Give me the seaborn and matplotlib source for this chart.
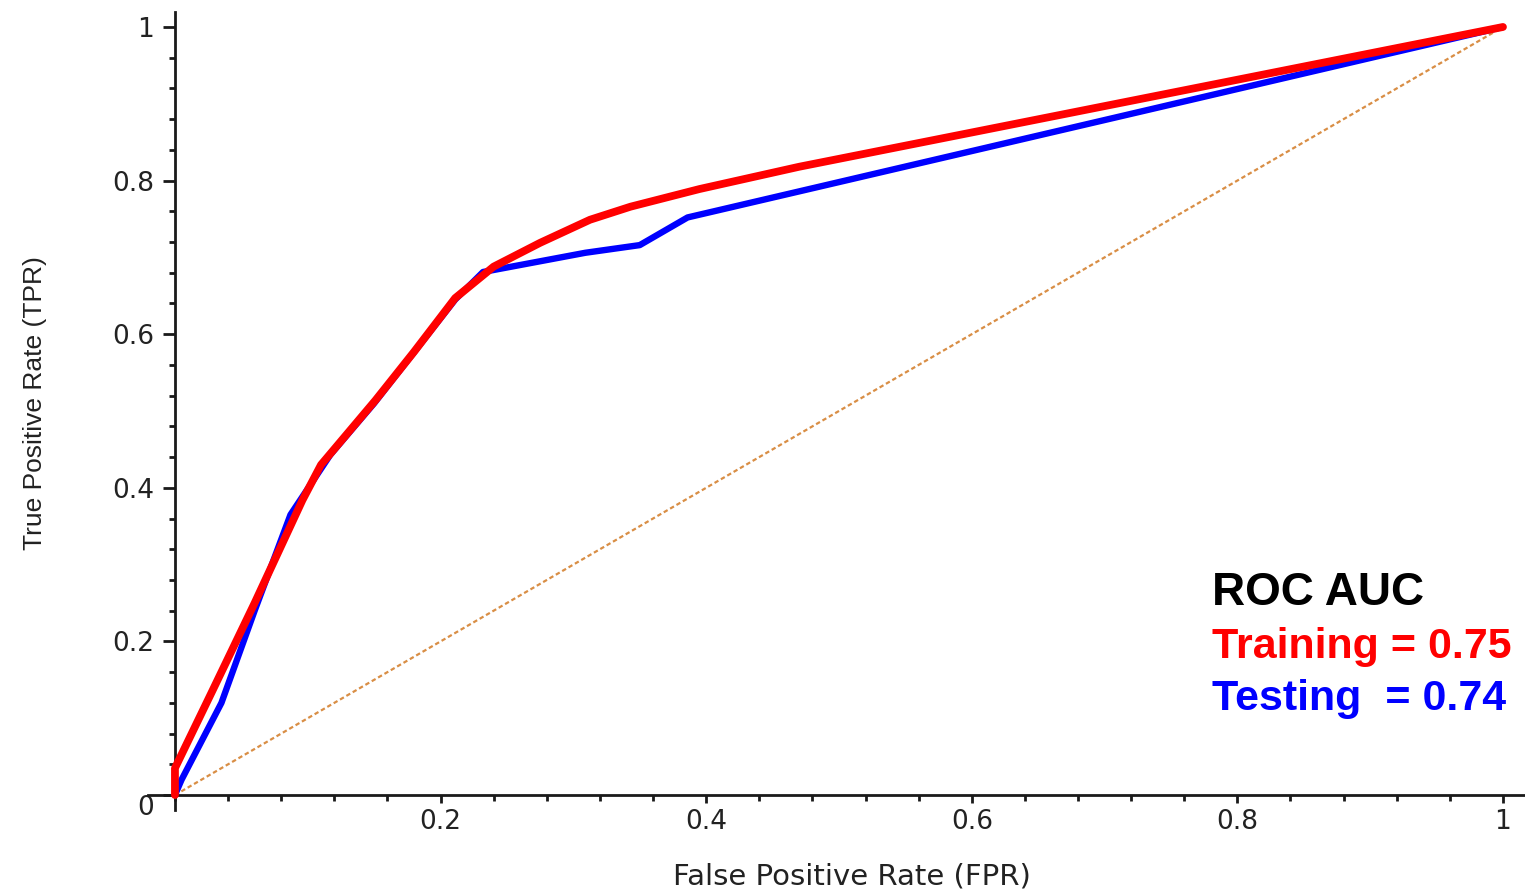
import matplotlib
matplotlib.use("Agg")
import matplotlib.pyplot as plt
import seaborn as sns
import pandas as pd
import numpy as np
from matplotlib.ticker import MultipleLocator, FixedLocator, FixedFormatter

# ---- data ----
train_fpr = [0.0, 0.0, 0.028, 0.06, 0.096, 0.11, 0.151, 0.18, 0.211, 0.24, 0.275, 0.3125, 0.343, 0.395, 0.47, 1.0]
train_tpr = [0.0, 0.035, 0.135, 0.25, 0.384, 0.43, 0.514, 0.577, 0.647, 0.688, 0.719, 0.749, 0.766, 0.789, 0.818, 1.0]
test_fpr = [0.0, 0.005, 0.035, 0.06, 0.087, 0.117, 0.15, 0.211, 0.232, 0.309, 0.350, 0.386, 1.0]
test_tpr = [0.0, 0.02, 0.12, 0.24, 0.365, 0.443, 0.51, 0.645, 0.681, 0.706, 0.716, 0.752, 1.0]
chance_x = [0.0, 1.0]
chance_y = [0.0, 1.0]
major_ticks = [0.2, 0.4, 0.6, 0.8, 1.0]
major_labels = ["0.2", "0.4", "0.6", "0.8", "1"]

sns.set_style("white")
plt.rcParams['font.family'] = ['DejaVu Sans']

fig = plt.figure(figsize=(15.25, 8.93), dpi=100)
ax = fig.add_axes([148/1525, 1 - 810/893, 1377/1525, 798/893])

df_train = pd.DataFrame({"FPR": train_fpr, "TPR": train_tpr})
df_test = pd.DataFrame({"FPR": test_fpr, "TPR": test_tpr})
df_chance = pd.DataFrame({"FPR": chance_x, "TPR": chance_y})

sns.lineplot(data=df_chance, x="FPR", y="TPR", ax=ax, sort=False, color="#D98E45",
             linewidth=1.6, linestyle=(0, (2.0, 1.3)), zorder=2)
sns.lineplot(data=df_test, x="FPR", y="TPR", ax=ax, sort=False, color="#0000FF",
             linewidth=4.6, zorder=3, estimator=None)
sns.lineplot(data=df_train, x="FPR", y="TPR", ax=ax, sort=False, color="#FF0000",
             linewidth=5.6, zorder=4, estimator=None)

ax.set_xlim(-0.0203, 1.0166)
ax.set_ylim(-0.0195, 1.0195)

for s in ["top", "right"]:
    ax.spines[s].set_visible(False)
ax.spines["left"].set_position(("data", 0))
ax.spines["bottom"].set_position(("data", 0))
for s in ["left", "bottom"]:
    ax.spines[s].set_linewidth(2.0)
    ax.spines[s].set_color("#1a1a1a")

ax.xaxis.set_major_locator(FixedLocator(major_ticks))
ax.xaxis.set_major_formatter(FixedFormatter(major_labels))
ax.yaxis.set_major_locator(FixedLocator([0.0] + major_ticks))
ax.yaxis.set_major_formatter(FixedFormatter(["0"] + major_labels))
ax.xaxis.set_minor_locator(MultipleLocator(0.04))
ax.yaxis.set_minor_locator(MultipleLocator(0.04))

ax.tick_params(axis="x", which="major", direction="out", length=6, width=2,
               color="#1a1a1a", labelsize=19, labelcolor="#222222", pad=4)
ax.tick_params(axis="y", which="major", direction="out", length=9, width=2,
               color="#1a1a1a", labelsize=19, labelcolor="#222222", pad=6)
ax.tick_params(axis="both", which="minor", direction="out", length=4, width=2,
               color="#1a1a1a")
ax.tick_params(axis="both", which="both", bottom=True, left=True)
for lab in ax.get_yticklabels():
    if lab.get_text() == "0":
        lab.set_va("top")

ax.set_xlabel("False Positive Rate (FPR)", fontsize=21, color="#222222")
ax.set_ylabel("True Positive Rate (TPR)", fontsize=19, color="#222222",
              family=["Liberation Sans Narrow", "Liberation Sans", "DejaVu Sans"])
ax.xaxis.set_label_coords((852 - 148) / 1377, (810 - 876) / 798)
ax.xaxis.label.set_va("center")
ax.yaxis.set_label_coords((35 - 148) / 1377, (810 - 403) / 798)
ax.yaxis.label.set_va("center")

txt_kw = dict(fontsize=31, fontweight="bold", family=["Liberation Sans", "DejaVu Sans"],
              ha="left", va="baseline")
ax.text(0.781, 0.247, "ROC AUC", color="black", fontsize=33,
        fontweight="bold", family=["Liberation Sans", "DejaVu Sans"], ha="left", va="baseline")
ax.text(0.781, 0.178, "Training = 0.75", color="#FF0000", **txt_kw)
ax.text(0.781, 0.111, "Testing  = 0.74", color="#0000FF", **txt_kw)

fig.savefig("out.png", dpi=100)
